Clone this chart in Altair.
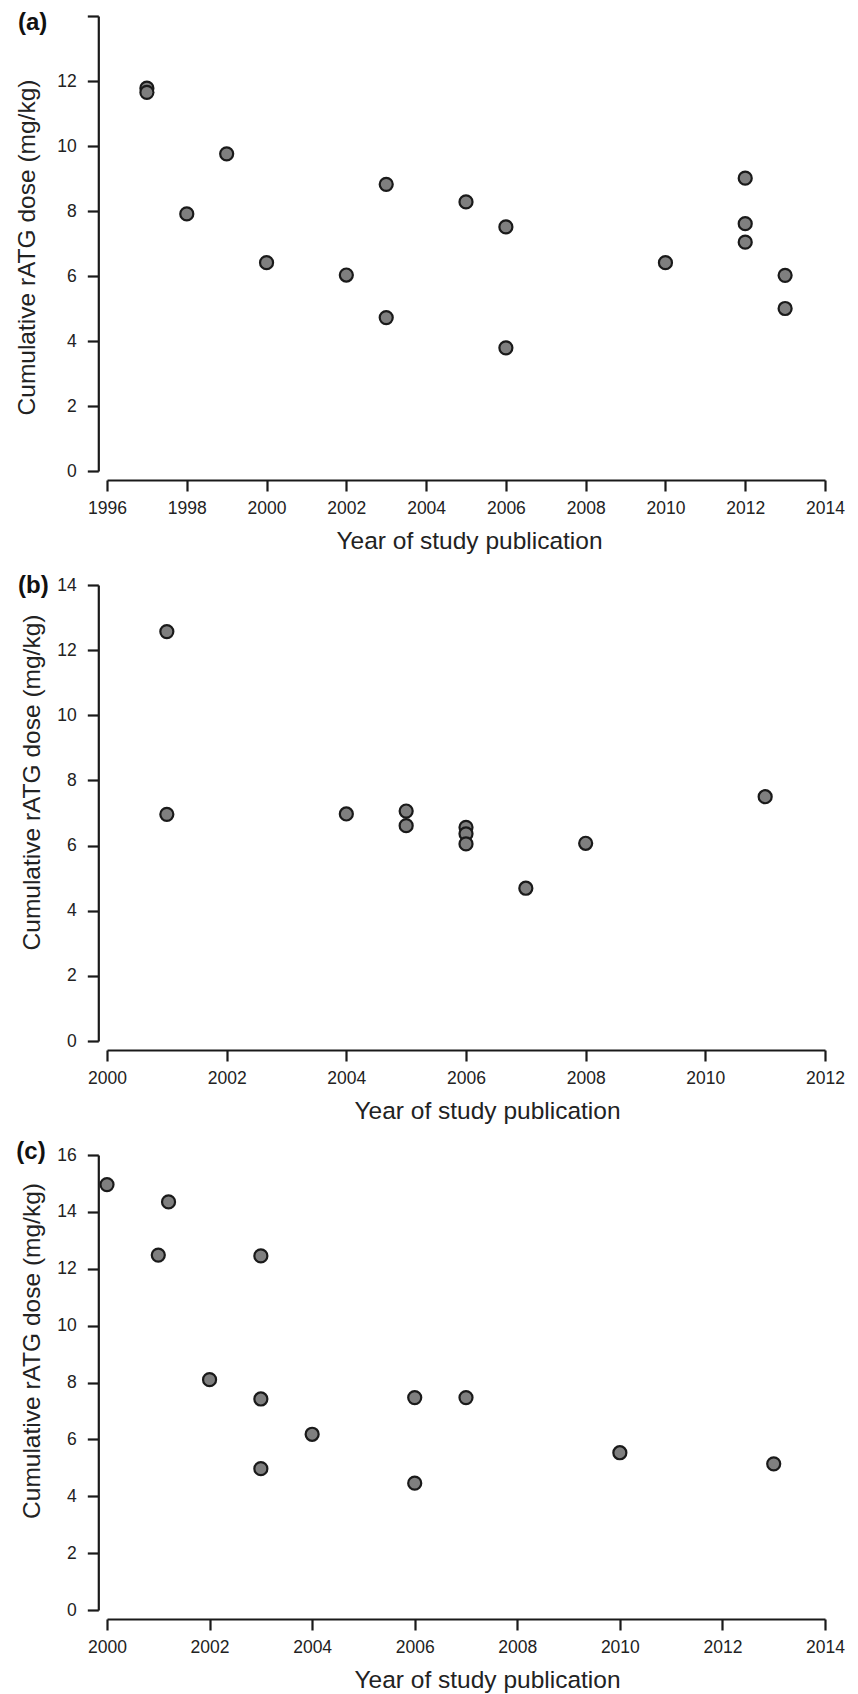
import altair as alt
import pandas as pd

# ---- data ----
a_year = [1997, 1997, 1998, 1999, 2000, 2002, 2003, 2003, 2005, 2006, 2006, 2010, 2012, 2012, 2012, 2013, 2013]
a_dose = [11.78, 11.65, 7.91, 9.76, 6.41, 6.03, 8.82, 4.72, 8.28, 7.51, 3.79, 6.41, 9.01, 7.61, 7.04, 6.02, 5.00]

b_year = [2001, 2001, 2004, 2005, 2005, 2006, 2006, 2006, 2007, 2008, 2011]
b_dose = [12.57, 6.96, 6.97, 7.06, 6.61, 6.56, 6.36, 6.05, 4.69, 6.07, 7.50]

c_year = [2000, 2001.2, 2001, 2003, 2002, 2003, 2003, 2004, 2006, 2006, 2007, 2010, 2013]
c_dose = [14.96, 14.35, 12.48, 12.45, 8.10, 7.42, 4.97, 6.18, 7.47, 4.46, 7.47, 5.53, 5.14]

panel_labels = ["(a)", "(b)", "(c)"]
x_domains = [[1996, 2014], [2000, 2012], [2000, 2014]]
y_domains = [[0, 14], [0, 14], [0, 16]]

X_TITLE = "Year of study publication"
Y_TITLE = "Cumulative rATG dose (mg/kg)"

FONT = "Liberation Sans"
INK = "#1a1a1a"
TXT = "#222222"
LABEL_FS = 17.5

W = 718


def panel(years, doses, label, xdom, ydom, height, hide_top_label,
          x_title_x, y_title_y, y_title_x, label_y, label_x):
    df = pd.DataFrame({"year": years, "dose": doses})
    xvals = list(range(xdom[0], xdom[1] + 1, 2))
    yvals = list(range(ydom[0], ydom[1] + 1, 2))
    y_axis_kw = dict(values=yvals, title=Y_TITLE, offset=8.7,
                     titleX=y_title_x, titleY=y_title_y,
                     titleBaseline="bottom", titleAngle=270,
                     titleAlign="center", labelPadding=11,
                     labelFlush=False, labelOverlap=False)
    if hide_top_label:
        y_axis_kw["labelExpr"] = "datum.value == %d ? '' : datum.label" % ydom[1]
        y_axis_kw["labelFontSize"] = {
            "condition": {"test": "datum.value == %d" % ydom[1], "value": 0},
            "value": LABEL_FS,
        }

    pts = alt.Chart(df).mark_point(
        shape="circle", filled=True, fill="#7f7f7f", stroke=INK,
        strokeWidth=2.2, size=170, opacity=1
    ).encode(
        x=alt.X("year:Q",
                scale=alt.Scale(domain=xdom, nice=False, zero=False),
                axis=alt.Axis(values=xvals, format="d", title=X_TITLE,
                              offset=9, titleX=x_title_x, titleY=68,
                              titleBaseline="alphabetic", titleAlign="center",
                              labelPadding=8, labelFlush=False, labelOverlap=False)),
        y=alt.Y("dose:Q",
                scale=alt.Scale(domain=ydom, nice=False, zero=True),
                axis=alt.Axis(**y_axis_kw)),
    )
    lab = alt.Chart(alt.Data(values=[{"label": label}])).mark_text(
        font=FONT, fontSize=24, fontWeight="bold", color="#111111",
        align="left", baseline="middle"
    ).encode(
        text="label:N",
        x=alt.value(label_x),
        y=alt.value(label_y),
    )
    return alt.layer(pts, lab).properties(width=W, height=height)


pa = panel(a_year, a_dose, panel_labels[0], x_domains[0], y_domains[0], 455, True,
           362, 231, -59.3, 7.3, -89)
pb = panel(b_year, b_dose, panel_labels[1], x_domains[1], y_domains[1], 456, False,
           380, 197, -54.3, 1, -89)
pc = panel(c_year, c_dose, panel_labels[2], x_domains[2], y_domains[2], 455, False,
           380, 195.5, -54.3, -2.7, -90.7)

chart = alt.vconcat(pa, pb, pc, spacing=114, bounds="flush").properties(
    padding={"left": 5, "top": 3, "right": 5, "bottom": 5}
).configure(
    background="white"
).configure_view(
    stroke=None
).configure_axis(
    grid=False,
    domainColor=INK, domainWidth=2.2,
    tickColor=INK, tickWidth=2.2, tickSize=11,
    labelFont=FONT, labelFontSize=LABEL_FS, labelColor=TXT,
    titleFont=FONT, titleFontSize=24.5, titleFontWeight="normal", titleColor=TXT,
)

chart.save("out.html", embed_options={"renderer": "svg", "actions": False})
